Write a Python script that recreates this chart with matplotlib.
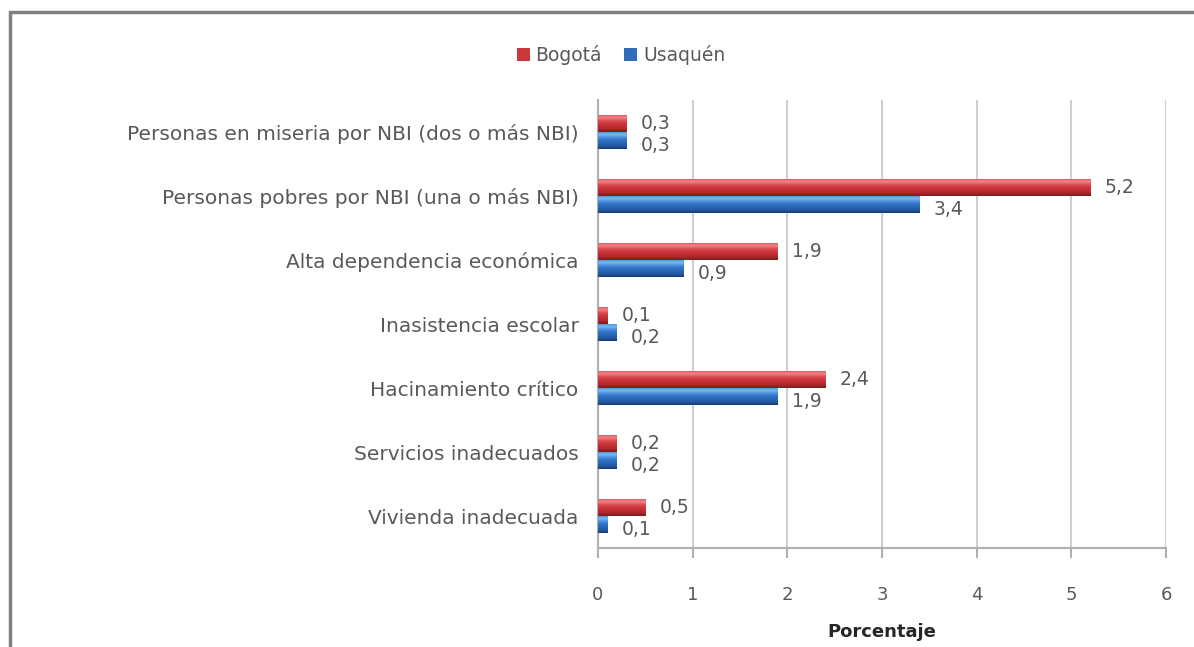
import numpy as np
import matplotlib.pyplot as plt
from matplotlib.patches import Rectangle
from matplotlib.colors import LinearSegmentedColormap

categories = [
    "Personas en miseria por NBI (dos o más NBI)",
    "Personas pobres por NBI (una o más NBI)",
    "Alta dependencia económica",
    "Inasistencia escolar",
    "Hacinamiento crítico",
    "Servicios inadecuados",
    "Vivienda inadecuada",
]
bogota = [0.3, 5.2, 1.9, 0.1, 2.4, 0.2, 0.5]
usaquen = [0.3, 3.4, 0.9, 0.2, 1.9, 0.2, 0.1]
xticks = [0, 1, 2, 3, 4, 5, 6]

plt.rcParams['font.family'] = ['DejaVu Sans']
txt = '#595959'

fig = plt.figure(figsize=(11.94, 6.47), dpi=100)
ax = fig.add_axes([0.5008, 0.153, 0.4757, 0.6924])

# frame around the chart area (runs off the right/bottom edge like the original)
fig.patches.append(Rectangle((0.008, -0.05), 1.1, 1.031, transform=fig.transFigure,
                             fill=False, edgecolor='#808080', linewidth=2.5, zorder=0))

y = np.arange(len(categories))
h = 0.27

red_cmap = LinearSegmentedColormap.from_list('r', [(0, '#D9484B'), (0.18, '#F08688'), (0.45, '#D63B3E'),
                                                   (0.8, '#B42A2D'), (1, '#7E1B1D')])
blue_cmap = LinearSegmentedColormap.from_list('b', [(0, '#3F86D6'), (0.18, '#7DB8F2'), (0.45, '#3278CC'),
                                                    (0.8, '#245DA8'), (1, '#163C70')])
grad = np.linspace(0, 1, 64).reshape(-1, 1)

def shaded_bars(ys, vals, base, cmap, label):
    bars = ax.barh(ys, vals, height=h, color=base, linewidth=0, label=label, zorder=3)
    # gradient fill clipped to each bar to mimic the 3d look
    for b in bars:
        x0, y0 = b.get_xy()
        im = ax.imshow(grad, cmap=cmap, aspect='auto', interpolation='bicubic', zorder=4,
                       extent=[x0, x0 + b.get_width(), y0 + b.get_height(), y0])
        im.set_clip_path(b)

shaded_bars(y - h / 2, bogota, '#C9393C', red_cmap, 'Bogotá')
shaded_bars(y + h / 2, usaquen, '#2F6DBA', blue_cmap, 'Usaquén')

for yi, v in zip(y - h / 2, bogota):
    ax.text(v + 0.15, yi, f"{v:.1f}".replace('.', ','), va='center', ha='left', fontsize=13.5, color=txt, zorder=6)
for yi, v in zip(y + h / 2, usaquen):
    ax.text(v + 0.15, yi + 0.08, f"{v:.1f}".replace('.', ','), va='center', ha='left', fontsize=13.5, color=txt, zorder=6)

ax.set_ylim(len(categories) - 0.5, -0.5)
ax.set_xlim(0, 6)
ax.set_xticks(xticks)
ax.set_yticks(y)
ax.set_yticklabels(categories)
ax.grid(axis='x', color='#CFCFCF', linewidth=1.5, zorder=0)
ax.set_axisbelow(True)
for s in ['top', 'right']:
    ax.spines[s].set_visible(False)
for s in ['left', 'bottom']:
    ax.spines[s].set_color('#B0B0B0')
    ax.spines[s].set_linewidth(1.5)
ax.tick_params(axis='y', length=0, pad=14, labelsize=14.5, labelcolor=txt)
ax.tick_params(axis='x', length=7, width=1.5, color='#B0B0B0', pad=20, labelsize=13, labelcolor=txt)
ax.set_xlabel('Porcentaje', fontsize=13, fontweight='bold', color='#262626', labelpad=14)

handles, labels = ax.get_legend_handles_labels()
fig.legend(handles, labels, loc='center', bbox_to_anchor=(0.52, 0.915), ncol=2, frameon=False,
           fontsize=13.5, handlelength=0.7, handleheight=0.7, handletextpad=0.3, columnspacing=1.2,
           labelcolor=txt)

fig.savefig('out.png', dpi=100)
